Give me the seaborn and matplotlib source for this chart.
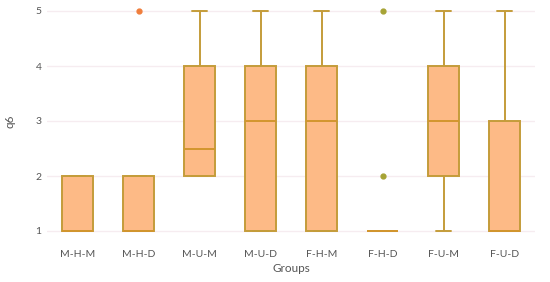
import matplotlib
matplotlib.use("Agg")
import matplotlib.pyplot as plt
import seaborn as sns
import pandas as pd

# valores de q6 por grupo
grupos = ["M-H-M", "M-H-D", "M-U-M", "M-U-D", "F-H-M", "F-H-D", "F-U-M", "F-U-D"]
q6_mhm = [1, 1, 1, 2, 2]
q6_mhd = [1, 1, 1, 1, 2, 2, 5]
q6_mum = [2, 2, 2, 2, 3, 4, 4, 5]
q6_mud = [1, 1, 1, 3, 4, 4, 5]
q6_fhm = [1, 1, 1, 3, 4, 4, 5]
q6_fhd = [1, 1, 1, 1, 1, 1, 1, 2, 5]
q6_fum = [1, 2, 2, 3, 4, 4, 5]
q6_fud = [1, 1, 1, 1, 3, 3, 5]
cores_outlier = {"M-H-D": "#F07E3C"}

valores = [q6_mhm, q6_mhd, q6_mum, q6_mud, q6_fhm, q6_fhd, q6_fum, q6_fud]
df = pd.DataFrame(
    [(g, v) for g, vals in zip(grupos, valores) for v in vals],
    columns=["Groups", "q6"],
)

sns.set_style("white")
plt.rcParams["font.family"] = ["Lato", "DejaVu Sans"]

fig = plt.figure(figsize=(5.5, 2.82), dpi=100)
ax = fig.add_axes([47 / 550, 1 - 242 / 282, 488 / 550, 242 / 282])

cor_borda = "#C49C3A"
sns.boxplot(
    data=df, x="Groups", y="q6", order=grupos, ax=ax, width=0.5,
    color="#FDBA86", saturation=1, linecolor=cor_borda, linewidth=1.4, whis=1.5,
    medianprops={"color": "#D2952E", "linewidth": 1.4},
    flierprops={"marker": "o", "markersize": 3.5, "markerfacecolor": "#A6A335",
                "markeredgecolor": "#A6A335"},
)

# cor diferente para o outlier de M-H-D
for ln in ax.lines:
    if ln.get_marker() == "o" and len(ln.get_xdata()) > 0:
        idx = int(round(ln.get_xdata()[0]))
        if grupos[idx] in cores_outlier:
            ln.set_markerfacecolor(cores_outlier[grupos[idx]])
            ln.set_markeredgecolor(cores_outlier[grupos[idx]])

ax.set_ylim(0.8, 5.2)
ax.set_xlim(-0.5, len(grupos) - 0.5)
ax.set_yticks([1, 2, 3, 4, 5])
ax.yaxis.grid(True, color="#F6ECF0", linewidth=1)
ax.set_axisbelow(True)
for s in ax.spines.values():
    s.set_visible(False)

ax.tick_params(axis="both", length=0, labelsize=7.5, colors="#555555")
ax.tick_params(axis="x", pad=6)
ax.tick_params(axis="y", pad=4)
ax.set_xlabel("Groups", fontsize=8.5, color="#555555", labelpad=3)
ax.set_ylabel("q6", fontsize=8.5, color="#555555", labelpad=14)

fig.savefig("out.png", dpi=100)
